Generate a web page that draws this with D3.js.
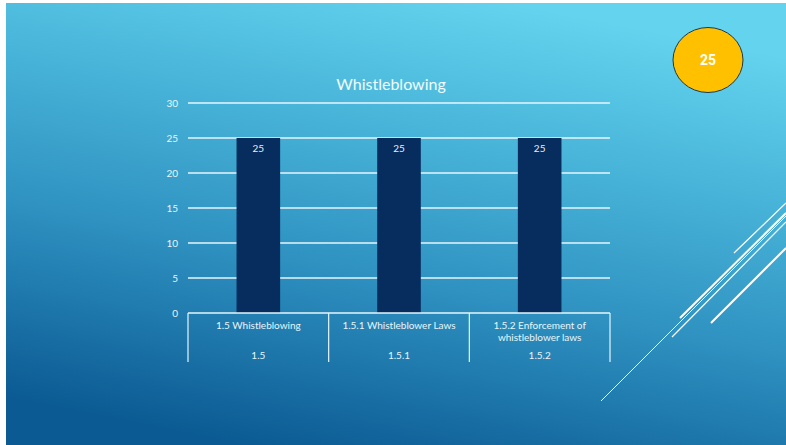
<!DOCTYPE html>
<html>
<head>
<meta charset="utf-8">
<script src="https://cdn.jsdelivr.net/npm/d3@7"></script>
<style>
  html, body { margin: 0; padding: 0; background: #fff; }
  svg { display: block; font-family: "Lato", "Open Sans", sans-serif; }
</style>
</head>
<body>
<svg id="chart" width="786" height="445"></svg>
<script>
const titulo = "Whistleblowing";
const categorias = ["1.5 Whistleblowing", "1.5.1 Whistleblower Laws", "1.5.2 Enforcement of whistleblower laws"];
const grupos = ["1.5", "1.5.1", "1.5.2"];
const valores = [25, 25, 25];
const ticksY = [0, 5, 10, 15, 20, 25, 30];
const numeroPagina = "25";

const svg = d3.select("#chart");
const W = 786, H = 445;

// fondo de la diapositiva
const defs = svg.append("defs");
const grad = defs.append("linearGradient")
  .attr("id", "fondo")
  .attr("x1", "30%").attr("y1", "100%")
  .attr("x2", "65%").attr("y2", "0%");
grad.append("stop").attr("offset", "0%").attr("stop-color", "#0b5a93");
grad.append("stop").attr("offset", "40%").attr("stop-color", "#2f92c1");
grad.append("stop").attr("offset", "75%").attr("stop-color", "#4cb9dc");
grad.append("stop").attr("offset", "100%").attr("stop-color", "#63d3ee");

svg.append("rect")
  .attr("x", 6).attr("y", 3)
  .attr("width", W - 6).attr("height", H - 3)
  .attr("fill", "url(#fondo)");

// lineas decorativas
const lineas = [
  { a: [601, 401], b: [786, 216], w: 1 },
  { a: [680, 318], b: [786, 213], w: 2 },
  { a: [672, 337], b: [786, 222], w: 1.2 },
  { a: [734, 253], b: [786, 203], w: 1.2 },
  { a: [711, 323], b: [786, 248], w: 2 }
];
svg.append("g").selectAll("line")
  .data(lineas)
  .join("line")
  .attr("x1", d => d.a[0]).attr("y1", d => d.a[1])
  .attr("x2", d => d.b[0]).attr("y2", d => d.b[1])
  .attr("stroke", "#ffffff")
  .attr("stroke-width", d => d.w);

// escalas
const x = d3.scaleBand().domain(categorias).range([188, 610]).paddingInner(0).paddingOuter(0);
const y = d3.scaleLinear().domain([0, 30]).range([313, 103]);
const anchoBarra = x.bandwidth() * 0.31;

// grilla
svg.append("g").selectAll("line")
  .data(ticksY.filter(t => t > 0))
  .join("line")
  .attr("x1", 188).attr("x2", 610)
  .attr("y1", d => y(d)).attr("y2", d => y(d))
  .attr("stroke", "#e6f6fb")
  .attr("stroke-width", 1.3);

// eje y
const ejeY = svg.append("g")
  .attr("transform", "translate(188,0)")
  .call(d3.axisLeft(y).tickValues(ticksY).tickSize(0).tickPadding(10));
ejeY.select(".domain").remove();
ejeY.selectAll("text")
  .attr("fill", "#e8f6fb")
  .attr("font-size", 10)
  .attr("font-family", "Lato, sans-serif");

// barras
svg.append("g").selectAll("rect")
  .data(valores)
  .join("rect")
  .attr("x", (d, i) => x(categorias[i]) + (x.bandwidth() - anchoBarra) / 2)
  .attr("y", d => y(d))
  .attr("width", anchoBarra)
  .attr("height", d => y(0) - y(d))
  .attr("fill", "#062d5e");

svg.append("g").selectAll("text")
  .data(valores)
  .join("text")
  .attr("x", (d, i) => x(categorias[i]) + x.bandwidth() / 2)
  .attr("y", d => y(d) + 14)
  .attr("text-anchor", "middle")
  .attr("fill", "#e8eef6")
  .attr("font-size", 10)
  .text(d => d);

// eje x con dos niveles
const ejeX = svg.append("g");
ejeX.append("line")
  .attr("x1", 188).attr("x2", 610)
  .attr("y1", y(0)).attr("y2", y(0))
  .attr("stroke", "#e6f6fb").attr("stroke-width", 1.3);

const separadores = categorias.map(c => x(c)).concat([x.range()[1]]);
ejeX.selectAll("line.sep")
  .data(separadores)
  .join("line")
  .attr("class", "sep")
  .attr("x1", d => d).attr("x2", d => d)
  .attr("y1", y(0)).attr("y2", 362)
  .attr("stroke", "#e6f6fb").attr("stroke-width", 1.2);

ejeX.selectAll("text.cat")
  .data(categorias)
  .join("text")
  .attr("class", "cat")
  .attr("text-anchor", "middle")
  .attr("fill", "#e8f6fb")
  .attr("font-size", 10)
  .each(function(d) {
    const t = d3.select(this);
    const cx = x(d) + x.bandwidth() / 2;
    const partes = d.length > 26 ? ["1.5.2 Enforcement of", "whistleblower laws"] : [d];
    partes.forEach((p, i) => {
      t.append("tspan").attr("x", cx).attr("y", 329 + i * 12).text(p);
    });
  });

ejeX.selectAll("text.grp")
  .data(grupos)
  .join("text")
  .attr("class", "grp")
  .attr("x", (d, i) => x(categorias[i]) + x.bandwidth() / 2)
  .attr("y", 359)
  .attr("text-anchor", "middle")
  .attr("fill", "#e8f6fb")
  .attr("font-size", 10)
  .text(d => d);

// titulo
svg.append("text")
  .attr("x", 391).attr("y", 90)
  .attr("text-anchor", "middle")
  .attr("fill", "#f2fbfe")
  .attr("font-size", 16)
  .text(titulo);

// circulo con numero de pagina
svg.append("ellipse")
  .attr("cx", 708).attr("cy", 60)
  .attr("rx", 35).attr("ry", 32.5)
  .attr("fill", "#ffc000")
  .attr("stroke", "#1f3a4a")
  .attr("stroke-width", 1);
svg.append("text")
  .attr("x", 708).attr("y", 65)
  .attr("text-anchor", "middle")
  .attr("fill", "#ffffff")
  .attr("font-weight", "bold")
  .attr("font-size", 14)
  .attr("font-family", "Roboto, sans-serif")
  .text(numeroPagina);
</script>
</body>
</html>
